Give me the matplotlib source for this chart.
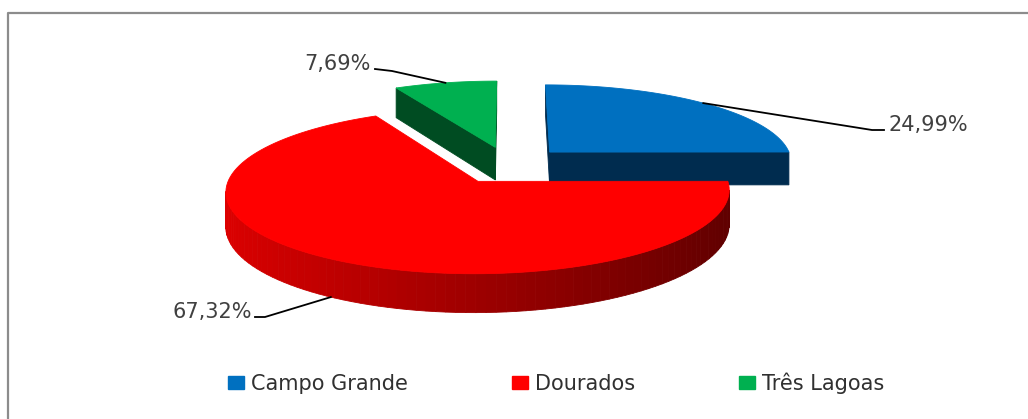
import numpy as np
import matplotlib.pyplot as plt
from matplotlib.colors import to_rgb
from matplotlib.patches import Polygon, Patch

# Data
regions = ["Campo Grande", "Dourados", "Três Lagoas"]
shares = [24.99, 67.32, 7.69]
top_colors = ["#0070c0", "#ff0000", "#00b050"]
cut_colors = ["#002c4f", "#7a0000", "#004c22"]

# view of the 3d pie (screen pixels)
CX, CY = 509.0, 165.0
SX, SY = 244.0, 77.7
DEPTH = 33.5
PERSP = 0.115
EXPLODE = 0.24
CAM = np.array([0.0, -1.0 / PERSP])


def project(u, v, z=0.0):
    w = 1 + PERSP * v
    return CX + SX * u / w, CY + (-SY * v + DEPTH * z) / w


def rim(c, a, z=0.0):
    r = np.radians(a)
    return project(c[0] + np.cos(r), c[1] + np.sin(r), z)


def facing(n, p):
    return np.dot(n, CAM - p) > 0


fig = plt.figure(figsize=(10.28, 4.19), dpi=100)
ax = fig.add_axes([0, 0, 1, 1])
ax.set_xlim(0, 1028)
ax.set_ylim(419, 0)
ax.axis("off")

# chart border (only left and top are visible)
ax.plot([8, 8, 1028], [419, 13, 13], color="#8c8c8c", lw=1.6, solid_capstyle="butt")

total = sum(shares)
slices = []
start = 90.0
for i, s in enumerate(shares):
    sweep = 360.0 * s / total
    a0, a1 = start - sweep, start
    start -= sweep
    m = np.radians((a0 + a1) / 2)
    c = EXPLODE * np.array([np.cos(m), np.sin(m)])
    slices.append((i, a0, a1, c))

# back slices first
slices.sort(key=lambda t: -t[3][1])

for i, a0, a1, c in slices:
    base = np.array(to_rgb(top_colors[i]))

    # curved side
    ts = np.linspace(a0, a1, 120)
    quads = []
    for t0, t1 in zip(ts[:-1], ts[1:]):
        tm = np.radians((t0 + t1) / 2)
        n = np.array([np.cos(tm), np.sin(tm)])
        p = c + n
        if not facing(n, p):
            continue
        shade = 0.62 - 0.25 * np.cos(tm)
        col = base * shade
        pts = [rim(c, t0), rim(c, t1), rim(c, t1, 1), rim(c, t0, 1)]
        quads.append((p[1], pts, col))
    quads.sort(key=lambda q: -q[0])
    for _, pts, col in quads:
        ax.add_patch(Polygon(pts, closed=True, facecolor=col, edgecolor=col, lw=0.6))

    # cut faces
    for a, na in ((a0, a0 - 90), (a1, a1 + 90)):
        r = np.radians(na)
        n = np.array([np.cos(r), np.sin(r)])
        if not facing(n, c):
            continue
        pts = [project(c[0], c[1]), rim(c, a), rim(c, a, 1), project(c[0], c[1], 1)]
        ax.add_patch(Polygon(pts, closed=True, facecolor=cut_colors[i],
                             edgecolor=cut_colors[i], lw=0.6))

    # top face
    pts = [project(c[0], c[1])] + [rim(c, t) for t in ts]
    ax.add_patch(Polygon(pts, closed=True, facecolor=top_colors[i],
                         edgecolor=top_colors[i], lw=0.6))

# data labels with leader lines
label_text = [f"{s:.2f}%".replace(".", ",") for s in shares]
label_pos = [(888, 125, "left"), (252, 312, "right"), (371, 64, "right")]
elbows = [[(884, 130), (872, 130)], [(255, 317), (265, 317)], [(375, 69), (392, 71)]]
anchor_z = [0, 1, 0]
for i, a0, a1, c in slices:
    mid = (a0 + a1) / 2
    ax_, ay_ = rim(c, mid, anchor_z[i])
    xs = [p[0] for p in elbows[i]] + [ax_]
    ys = [p[1] for p in elbows[i]] + [ay_]
    ax.plot(xs, ys, color="black", lw=1.3)
    x, y, ha = label_pos[i]
    ax.text(x, y, label_text[i], ha=ha, va="center", fontsize=15,
            color="#404040", family="DejaVu Sans")

handles = [Patch(facecolor=top_colors[i], edgecolor=top_colors[i]) for i in range(3)]
ax.legend(handles, regions, loc="center", bbox_to_anchor=(0.541, 0.086), ncol=3,
          frameon=False, fontsize=15, handlelength=0.75, handleheight=0.55,
          handletextpad=0.35, columnspacing=5.0, labelcolor="#303030")

fig.savefig("out.png", dpi=100)
